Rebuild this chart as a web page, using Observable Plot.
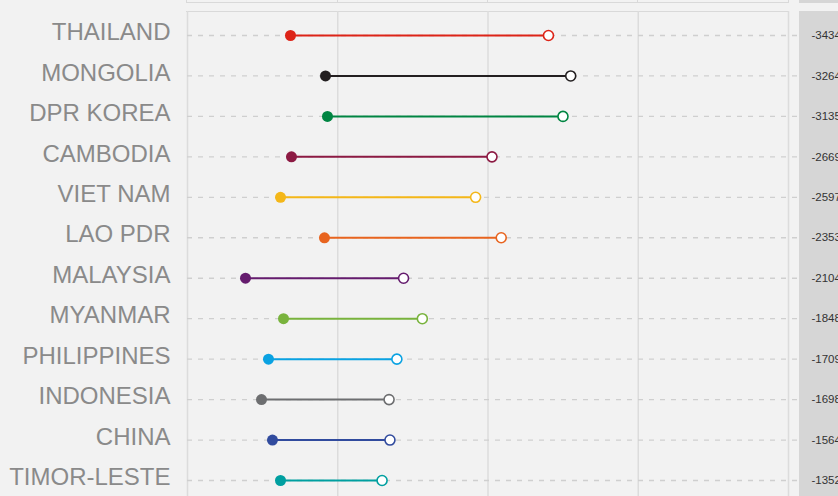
<!DOCTYPE html>
<html>
<head>
<meta charset="utf-8">
<script src="https://cdn.jsdelivr.net/npm/d3@7"></script>
<script src="https://cdn.jsdelivr.net/npm/@observablehq/plot@0.6"></script>
<style>
  html, body { margin: 0; padding: 0; background: #f2f2f2; }
  #wrap { position: relative; width: 838px; height: 496px; background: #f2f2f2; overflow: hidden; font-family: "Liberation Sans", Arial, sans-serif; }
  .deco { position: absolute; box-sizing: border-box; }
  #chart { position: absolute; left: 0; top: 0; }
</style>
</head>
<body>
<div id="wrap">
  <!-- strip of the panel above -->
  <div class="deco" style="left:186px; top:-10px; width:603px; height:13px; border:1.5px solid #d9d9d9;"></div>
  <div class="deco" style="left:336.5px; top:-10px; width:1.5px; height:13px; background:#d9d9d9;"></div>
  <div class="deco" style="left:486.5px; top:-10px; width:1.5px; height:13px; background:#d9d9d9;"></div>
  <div class="deco" style="left:636.5px; top:-10px; width:1.5px; height:13px; background:#d9d9d9;"></div>
  <div class="deco" style="left:799px; top:-10px; width:60px; height:13px; background:#d6d6d6;"></div>
  <!-- main panel -->
  <div class="deco" style="left:186px; top:10.5px; width:603px; height:1.5px; background:#d9d9d9;"></div>
  <div class="deco" style="left:799px; top:11px; width:60px; height:500px; background:#d6d6d6;"></div>
  <div id="chart"></div>
</div>
<script>
const countries = ["THAILAND", "MONGOLIA", "DPR KOREA", "CAMBODIA", "VIET NAM", "LAO PDR",
  "MALAYSIA", "MYANMAR", "PHILIPPINES", "INDONESIA", "CHINA", "TIMOR-LESTE"];
const startValues = [1371, 1837, 1863, 1384, 1238, 1823, 772, 1278, 1078, 985, 1131, 1238];
const differences = [-3434, -3264, -3135, -2669, -2597, -2353, -2104, -1848, -1709, -1698, -1564, -1352];
const colors = ["#dd2418", "#231f20", "#008542", "#8c1a43", "#f4b719", "#e8641f",
  "#651c6e", "#79b33d", "#0aa2e2", "#6d6e70", "#314b9e", "#009fa0"];
const gridTicks = [0, 2000, 4000, 6000, 8000];

const data = countries.map((c, i) => ({
  country: c,
  start: startValues[i],
  end: startValues[i] - differences[i],
  diff: differences[i],
  color: colors[i]
}));

const plot = Plot.plot({
  width: 838,
  height: 496,
  marginTop: 11,
  marginBottom: 0,
  marginLeft: 187,
  marginRight: 50,
  style: { background: "transparent", fontFamily: "'Liberation Sans', Arial, sans-serif" },
  x: { domain: [0, 8000], axis: null },
  y: { type: "point", domain: countries, range: [35, 480], padding: 0, round: false, axis: null },
  color: { type: "identity" },
  marks: [
    Plot.ruleX(gridTicks, { stroke: "#dcdcdc", strokeWidth: 1.5 }),
    Plot.ruleY(data, { y: "country", x1: 0, x2: 8120, stroke: "#cfcfcf", strokeWidth: 1.3, strokeDasharray: "5,6" }),
    Plot.link(data, { x1: "start", x2: "end", y1: "country", y2: "country", stroke: "color", strokeWidth: 2 }),
    Plot.dot(data, { x: "start", y: "country", fill: "color", r: 5.5 }),
    Plot.dot(data, { x: "end", y: "country", stroke: "color", fill: "#ffffff", r: 5, strokeWidth: 1.6 }),
    Plot.text(data, { x: 0, y: "country", text: "country", textAnchor: "end", dx: -17, dy: -3, fontSize: 24, fill: "#8a8a8a" }),
    Plot.text(data, { x: 8000, y: "country", text: d => String(d.diff), textAnchor: "start", dx: 23, fontSize: 11.5, fill: "#333333" })
  ]
});
document.getElementById("chart").appendChild(plot);
</script>
</body>
</html>
